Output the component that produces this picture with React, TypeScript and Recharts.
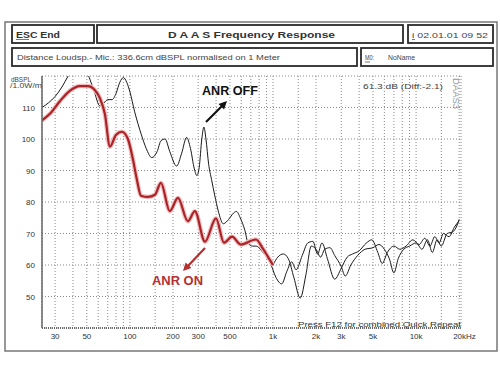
import { LineChart, Line, XAxis, YAxis, CartesianGrid } from 'recharts';

// ANR OFF, whole band (Hz / dBSPL)
const anrOffHz = [24.3, 27, 30, 33.5, 37, 41, 45, 49, 52, 56, 61.7, 66, 70, 75, 80, 85, 90, 95, 100, 108, 120, 130, 142, 155, 165, 176, 190, 212, 230, 249, 265, 282, 294, 305, 318, 329, 340, 355, 372, 392, 413, 450, 490, 530, 556, 590, 636, 671, 720, 760, 850, 950, 1050, 1150, 1250, 1350, 1450, 1600, 1750, 1900, 2050, 2200, 2400, 2700, 3000, 3300, 3600, 4000, 4500, 4900, 5400, 5800, 6300, 7000, 7700, 8500, 9500, 10500, 11500, 12500, 13500, 14500, 15500, 17000, 18500, 20000];
const anrOffDb = [110, 111.5, 113.5, 116.5, 120, 123.5, 125, 123, 119.5, 115.5, 110.5, 111.5, 112.5, 112.5, 114.5, 118, 119.5, 118, 115, 108.6, 101.5, 97, 94.1, 96, 99.5, 100, 96, 91.4, 95.5, 100.5, 97, 90.5, 88.4, 91, 100, 103.8, 100, 92, 87.1, 82, 77.4, 73.1, 74.5, 76.5, 77, 75, 71, 66.8, 66, 66, 64, 61, 56, 54, 58, 61, 58.5, 63, 67, 67.5, 63.5, 67, 62, 55.5, 59, 62.5, 63.5, 64.5, 67, 68, 64, 60.5, 64, 66, 65, 66, 68, 66.5, 68.5, 66, 69, 67, 70, 69, 72, 74];

// ANR ON, drawn red up to 1 kHz
const anrOnHz = [24.3, 27.6, 32.4, 38, 44.7, 50.8, 57, 61.7, 66.8, 72.5, 79.9, 87.9, 96.8, 105, 112, 119.4, 133.6, 149.6, 164.6, 190, 216.6, 254, 284.5, 334.5, 399.5, 454, 517, 596, 760, 850, 922, 1000];
const anrOnDb = [105.9, 108, 112, 115.3, 116.8, 116.8, 115.5, 113, 108, 97.6, 101.3, 102.3, 100, 93.5, 87, 82, 81.6, 82.3, 86.1, 77.1, 81.3, 73.9, 77.1, 67.4, 74.8, 67.1, 69, 66.5, 68.1, 65.2, 62.6, 60];

// ANR ON above 1 kHz, drawn black
const anrOnHighHz = [1000, 1080, 1180, 1280, 1400, 1550, 1700, 1850, 2000, 2150, 2300, 2500, 2700, 3000, 3200, 3500, 3900, 4400, 5000, 5500, 6000, 6500, 7000, 7500, 8200, 9000, 10000, 11000, 12000, 13000, 14000, 15000, 16500, 18000, 19500, 20000];
const anrOnHighDb = [60, 62.5, 63.5, 62, 56, 49.5, 57, 66, 65, 62.5, 65, 65.5, 63, 59.5, 56.5, 60, 63, 65, 65.5, 66.5, 65, 62, 57.5, 62, 65, 66, 67, 65, 68, 64, 68, 66, 70, 70.5, 73, 74.5];

const xGridHz = [30, 40, 50, 60, 70, 80, 90, 100, 150, 200, 300, 400, 500, 600, 700, 800, 900, 1000, 1500, 2000, 3000, 4000, 5000, 6000, 7000, 8000, 9000, 10000, 15000, 20000];
const xTickLabels: Record<number, string> = { 30: '30', 50: '50', 100: '100', 200: '200', 300: '300', 500: '500', 1000: '1k', 2000: '2k', 3000: '3k', 5000: '5k', 10000: '10k', 20000: '20kHz' };
const yTicks = [40, 50, 60, 70, 80, 90, 100, 110, 120];

const zip = (hz: number[], db: number[]) => hz.map((f, i) => ({ f, v: db[i] }));
const offData = zip(anrOffHz, anrOffDb);
const onData = zip(anrOnHz, anrOnDb);
const onHighData = zip(anrOnHighHz, anrOnHighDb);

const FONT = '"Liberation Sans", Arial, sans-serif';

const XTick = (props: any) => {
  const { x, y, payload } = props;
  const lbl = xTickLabels[payload.value];
  if (!lbl) return <g />;
  const is20k = payload.value === 20000;
  return (
    <text x={is20k ? x - 6 : x} y={y + 11} textAnchor={is20k ? 'start' : 'middle'} fontSize={8} fill="#333" fontFamily={FONT}>
      {lbl}
    </text>
  );
};

const YTick = (props: any) => {
  const { x, y, payload } = props;
  if (payload.value === 40 || payload.value === 120) return <g />;
  return (
    <text x={x - 7} y={y + 3} textAnchor="end" fontSize={8} fill="#333" fontFamily={FONT}>
      {payload.value}
    </text>
  );
};

const Overlay = () => (
  <svg width={500} height={372} style={{ position: 'absolute', left: 0, top: 0, pointerEvents: 'none' }} fontFamily={FONT}>
    <rect x={5} y={22} width={492} height={329} fill="none" stroke="#777" strokeWidth={1.5} />
    <rect x={12} y={25} width={82} height={18} fill="none" stroke="#2a2a2a" strokeWidth={1.8} />
    <rect x={97} y={25} width={306} height={18} fill="none" stroke="#2a2a2a" strokeWidth={1.8} />
    <rect x={408} y={25} width={85} height={18} fill="none" stroke="#2a2a2a" strokeWidth={1.8} />
    <rect x={12} y={48} width={345} height={18} fill="none" stroke="#2a2a2a" strokeWidth={1.8} />
    <rect x={361} y={48} width={132} height={18} fill="none" stroke="#2a2a2a" strokeWidth={1.8} />

    <text x={16} y={37.5} fontSize={9} fontWeight="bold" fill="#333" textLength={44} lengthAdjust="spacingAndGlyphs">ESC  End</text>
    <line x1={16} y1={39.5} x2={29} y2={39.5} stroke="#555" strokeWidth={0.8} />
    <text x={168} y={37.5} fontSize={9} fontWeight="bold" fill="#333" textLength={167} lengthAdjust="spacingAndGlyphs">D A A S   Frequency Response</text>
    <text x={412} y={37.5} fontSize={8} fill="#444" textLength={76} lengthAdjust="spacingAndGlyphs">i 02.01.01  09 52</text>
    <line x1={412} y1={39.5} x2={415} y2={39.5} stroke="#555" strokeWidth={0.8} />
    <text x={17} y={60} fontSize={8} fill="#444" textLength={263} lengthAdjust="spacingAndGlyphs">Distance Loudsp.- Mic.: 336.6cm dBSPL normalised on 1 Meter</text>
    <text x={365} y={60} fontSize={8} fill="#444" textLength={9} lengthAdjust="spacingAndGlyphs">M0:</text>
    <line x1={365} y1={62} x2={370} y2={62} stroke="#555" strokeWidth={0.8} />
    <text x={388} y={60} fontSize={8} fill="#444" textLength={27} lengthAdjust="spacingAndGlyphs">NoName</text>

    <text x={11} y={81.5} fontSize={7} fill="#444" textLength={20} lengthAdjust="spacingAndGlyphs">dBSPL</text>
    <text x={10} y={88} fontSize={7} fill="#444" textLength={32} lengthAdjust="spacingAndGlyphs">/1.0W/m</text>
    <text x={363} y={88.5} fontSize={7.5} fill="#444" textLength={80} lengthAdjust="spacingAndGlyphs">61.3 dB (Diff:-2.1)</text>
    <text x={0} y={0} fontSize={9} fill="#999" transform="translate(453,78) rotate(90)" textLength={31} lengthAdjust="spacingAndGlyphs">DAAS3</text>
    <text x={298} y={327} fontSize={8} fill="#333" textLength={163} lengthAdjust="spacingAndGlyphs">Press F12 for combined Quick Repeat</text>

    <text x={202} y={95} fontSize={12.5} fontWeight="bold" fill="#111" textLength={56} lengthAdjust="spacingAndGlyphs">ANR OFF</text>
    <line x1={206} y1={122} x2={222} y2={106} stroke="#111" strokeWidth={2.2} />
    <polygon points="227,101 224.1,109.5 218.5,103.9" fill="#111" />
    <text x={152} y={285} fontSize={12.5} fontWeight="bold" fill="#b53030" textLength={51} lengthAdjust="spacingAndGlyphs">ANR ON</text>
    <line x1={205} y1={248} x2={187} y2={267} stroke="#b53030" strokeWidth={2.2} />
    <polygon points="183,271 191.4,268 185.6,262.4" fill="#b53030" />
  </svg>
);

export default function App() {
  return (
    <div style={{ position: 'absolute', left: 0, top: 0, width: 500, height: 372, background: '#fff' }}>
      <LineChart width={500} height={372} margin={{ top: 76, right: 39, left: 12, bottom: 24 }}>
        <CartesianGrid stroke="#8a8a8a" strokeDasharray="1 2" />
        <XAxis
          dataKey="f"
          type="number"
          scale="log"
          domain={[24.3, 20600]}
          ticks={xGridHz}
          allowDataOverflow
          height={20}
          tickLine={false}
          tickSize={0}
          tickMargin={0}
          axisLine={{ stroke: '#444', strokeWidth: 1.5, strokeDasharray: '1 1' }}
          tick={(p: any) => <XTick {...p} />}
          interval={0}
        />
        <YAxis
          type="number"
          domain={[40, 120]}
          ticks={yTicks}
          allowDataOverflow
          width={30}
          tickLine={false}
          tickSize={0}
          tickMargin={0}
          axisLine={{ stroke: '#666', strokeWidth: 1.5 }}
          tick={(p: any) => <YTick {...p} />}
          interval={0}
        />
        <Line data={offData} dataKey="v" type="monotone" stroke="#1a1a1a" strokeWidth={1} dot={false} isAnimationActive={false} />
        <Line data={onHighData} dataKey="v" type="monotone" stroke="#1a1a1a" strokeWidth={1} dot={false} isAnimationActive={false} />
        <Line data={onData} dataKey="v" type="monotone" stroke="#f2bcbc" strokeWidth={4.5} dot={false} isAnimationActive={false} />
        <Line data={onData} dataKey="v" type="monotone" stroke="#a82428" strokeWidth={2.2} dot={false} isAnimationActive={false} />
      </LineChart>
      <Overlay />
    </div>
  );
}
